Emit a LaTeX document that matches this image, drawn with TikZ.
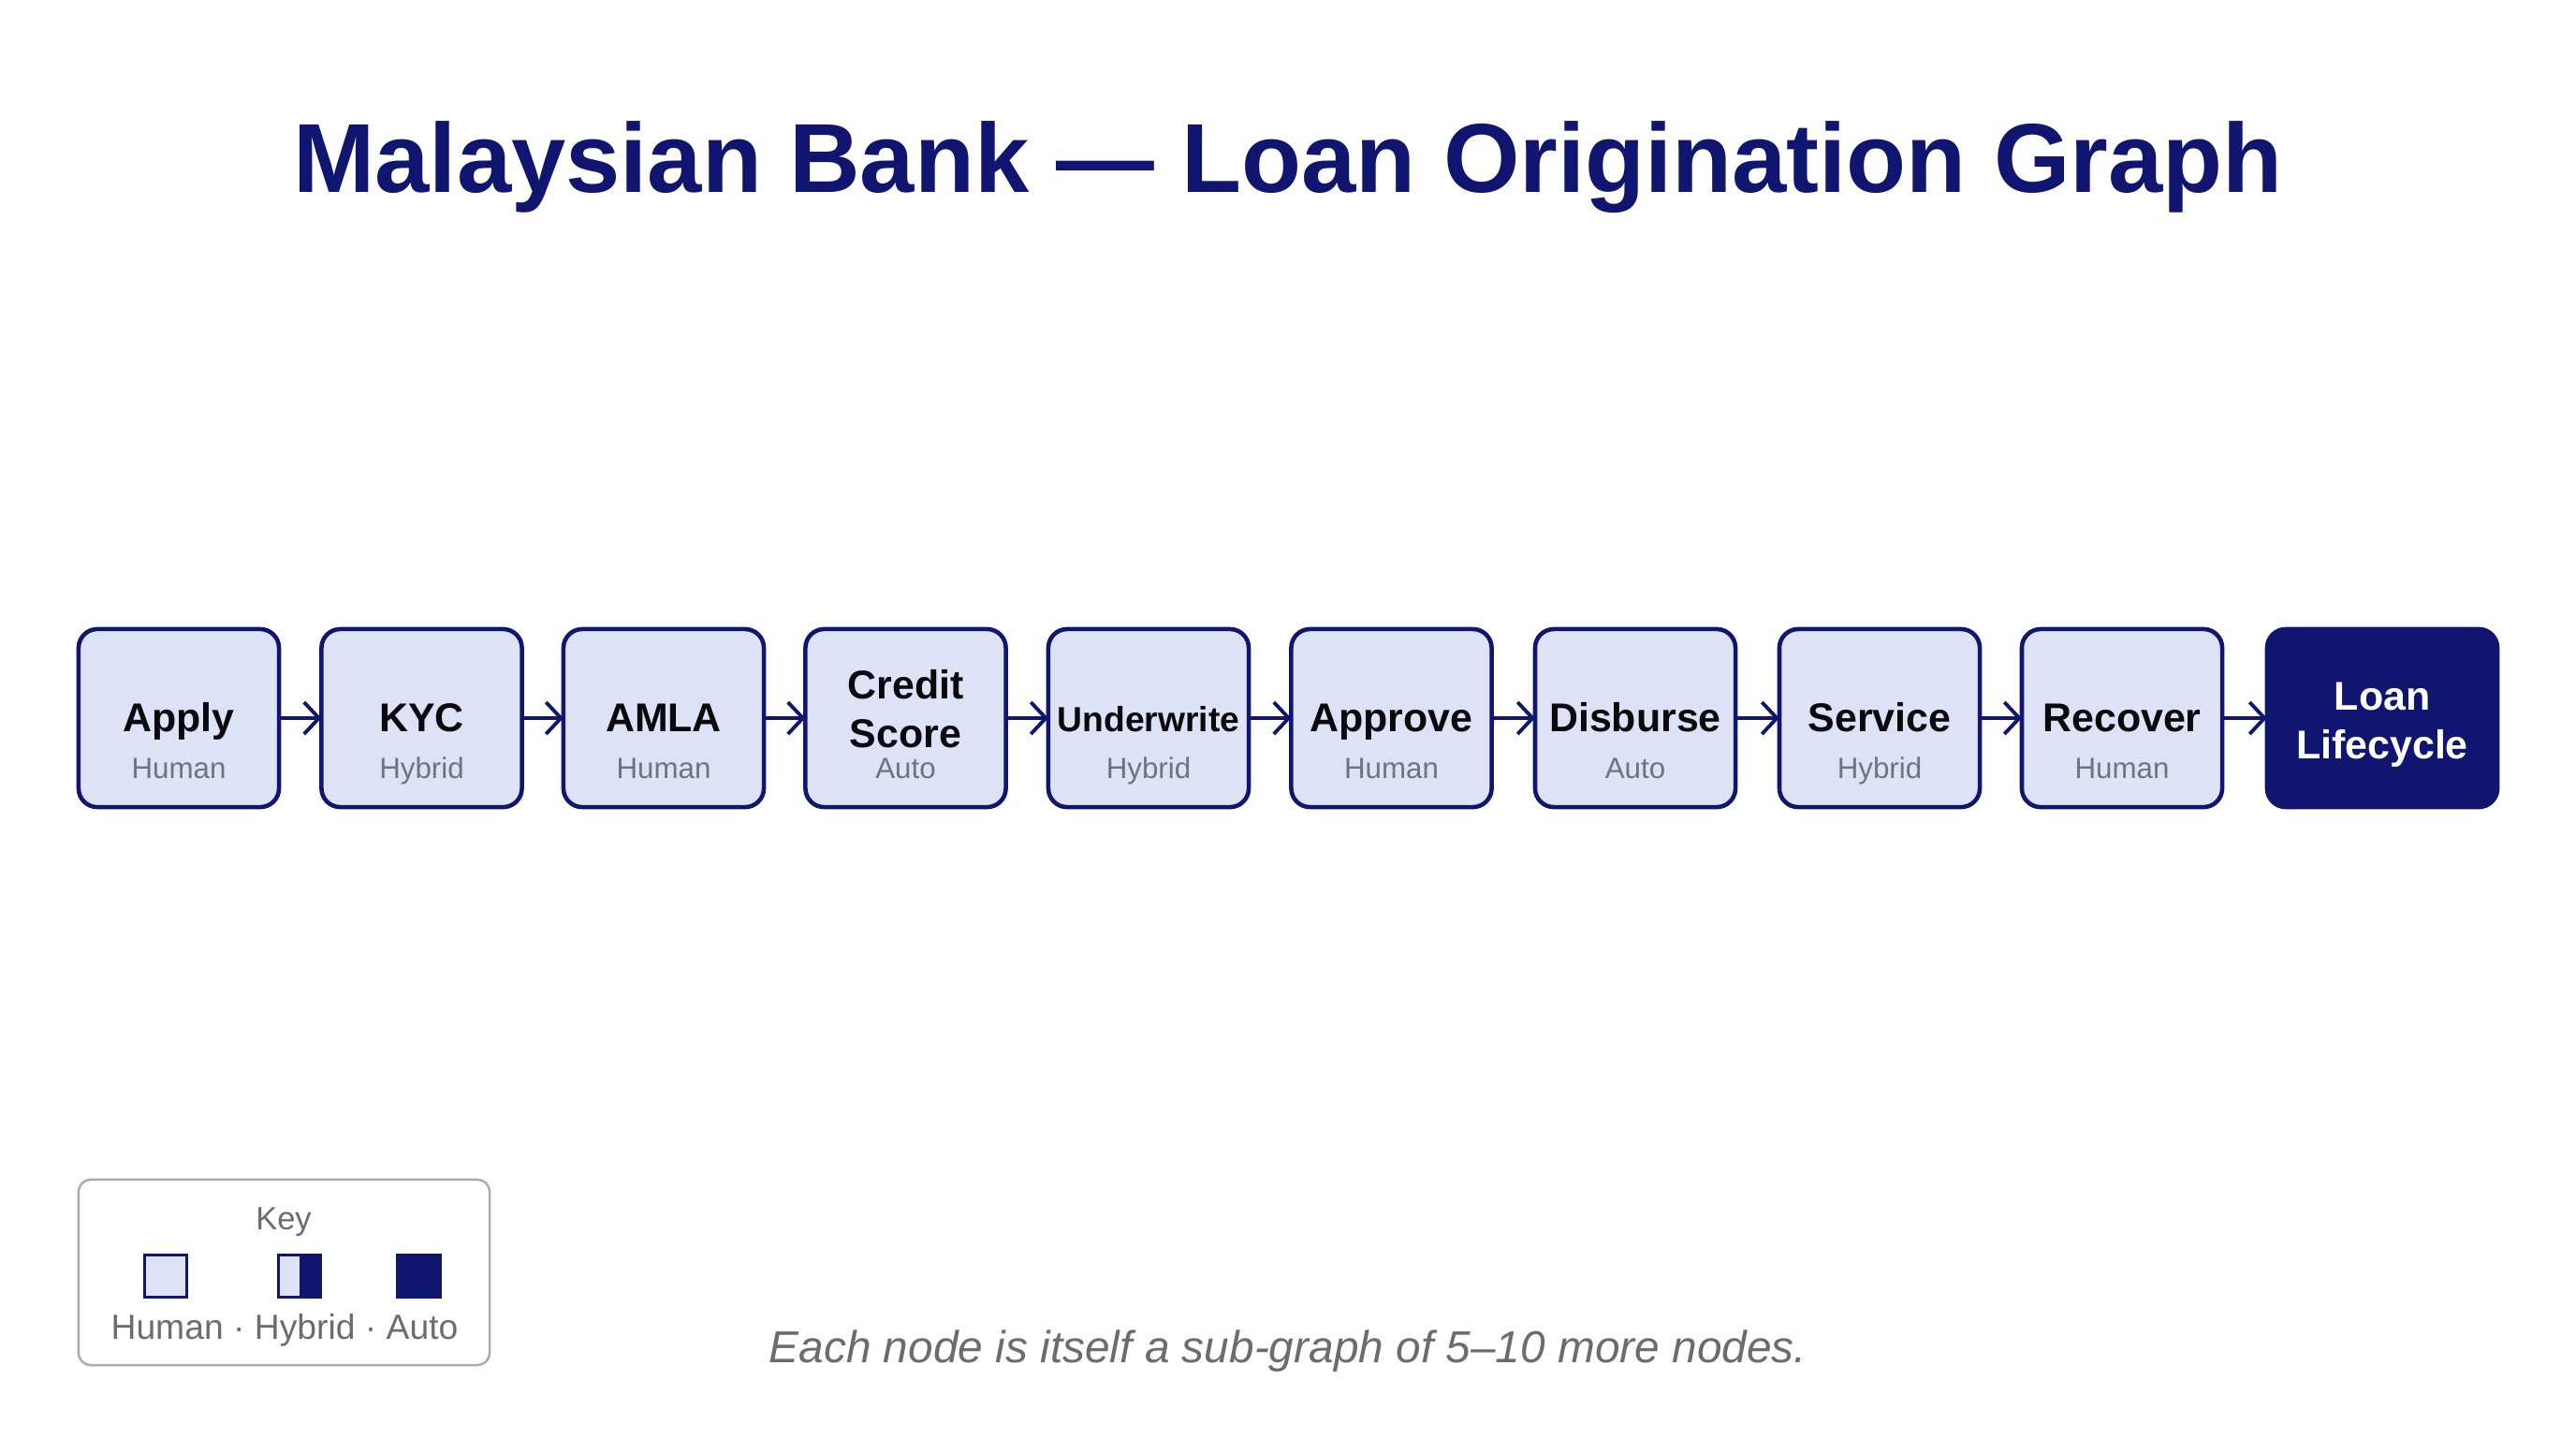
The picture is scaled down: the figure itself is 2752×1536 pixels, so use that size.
\documentclass[tikz,border=0pt]{standalone}
\usepackage{fontspec}
\setmainfont{Liberation Sans}
\usetikzlibrary{arrows.meta}
\definecolor{navy}{RGB}{16,22,112}
\definecolor{boxfill}{RGB}{222,226,246}
\definecolor{subgray}{RGB}{112,114,128}
\definecolor{keygray}{RGB}{170,170,178}
\definecolor{notegray}{RGB}{108,108,112}
\definecolor{labelblack}{RGB}{10,10,14}
\begin{document}
\begin{tikzpicture}[x=0.01cm,y=-0.01cm,
  stagebox/.style={draw=navy, line width=1.3pt, fill=boxfill, rounded corners=0.2cm,
    minimum width=2.14cm, minimum height=1.9cm, inner sep=0pt, outer sep=0pt},
  finalbox/.style={draw=navy, line width=1.3pt, fill=navy, rounded corners=0.2cm,
    minimum width=2.46cm, minimum height=1.9cm, inner sep=0pt, outer sep=0pt},
  mainlbl/.style={anchor=base, inner sep=0pt, text=labelblack,
    font=\fontsize{12.2pt}{14pt}\selectfont\bfseries},
  smalllbl/.style={anchor=base, inner sep=0pt, text=labelblack,
    font=\fontsize{10.6pt}{12pt}\selectfont\bfseries},
  finallbl/.style={anchor=base, inner sep=0pt, text=white,
    font=\fontsize{12.2pt}{14pt}\selectfont\bfseries},
  sublbl/.style={anchor=base, inner sep=0pt, text=subgray,
    font=\fontsize{8.9pt}{10pt}\selectfont},
  flow/.style={draw=navy, line width=1.1pt,
    -{Straight Barb[length=0.16cm, width=0.34cm]}},
  keysq/.style={draw=navy, line width=0.9pt, minimum size=0.45cm, inner sep=0pt, outer sep=0pt},
  keytext/.style={anchor=base, inner sep=0pt, text=notegray},
]
\useasboundingbox (0,0) rectangle (2752,1536);
\fill[white] (0,0) rectangle (2752,1536);

% title
\node[anchor=base, inner sep=0pt, text=navy,
  font=\fontsize{29.8pt}{36pt}\selectfont\bfseries] (title) at (1376,205)
  {Malaysian Bank — Loan Origination Graph};

% stage boxes
\node[stagebox] (apply) at (191,767) {};
\node[stagebox] (kyc) at (450.5,767) {};
\node[stagebox] (amla) at (709,767) {};
\node[stagebox] (credit) at (967.5,767) {};
\node[stagebox] (under) at (1227,767) {};
\node[stagebox] (approve) at (1486.5,767) {};
\node[stagebox] (disburse) at (1747,767) {};
\node[stagebox] (service) at (2008,767) {};
\node[stagebox] (recover) at (2267,767) {};
\node[finalbox] (loan) at (2545,767) {};

% labels
\node[mainlbl] (apply-t) at (apply.center |- 0,781) {Apply};
\node[sublbl] (apply-s) at (apply.center |- 0,831) {Human};
\node[mainlbl] (kyc-t) at (kyc.center |- 0,781) {KYC};
\node[sublbl] (kyc-s) at (kyc.center |- 0,831) {Hybrid};
\node[mainlbl] (amla-t) at (amla.center |- 0,781) {AMLA};
\node[sublbl] (amla-s) at (amla.center |- 0,831) {Human};
\node[mainlbl] (credit-t1) at (credit.center |- 0,746) {Credit};
\node[mainlbl] (credit-t2) at (credit.center |- 0,798) {Score};
\node[sublbl] (credit-s) at (credit.center |- 0,831) {Auto};
\node[smalllbl] (under-t) at (under.center |- 0,781) {Underwrite};
\node[sublbl] (under-s) at (under.center |- 0,831) {Hybrid};
\node[mainlbl] (approve-t) at (approve.center |- 0,781) {Approve};
\node[sublbl] (approve-s) at (approve.center |- 0,831) {Human};
\node[mainlbl] (disburse-t) at (disburse.center |- 0,781) {Disburse};
\node[sublbl] (disburse-s) at (disburse.center |- 0,831) {Auto};
\node[mainlbl] (service-t) at (service.center |- 0,781) {Service};
\node[sublbl] (service-s) at (service.center |- 0,831) {Hybrid};
\node[mainlbl] (recover-t) at (recover.center |- 0,781) {Recover};
\node[sublbl] (recover-s) at (recover.center |- 0,831) {Human};
\node[finallbl] (loan-t1) at (loan.center |- 0,758) {Loan};
\node[finallbl] (loan-t2) at (loan.center |- 0,810) {Lifecycle};

% connectors
\draw[flow] (apply.east) -- (kyc.west);
\draw[flow] (kyc.east) -- (amla.west);
\draw[flow] (amla.east) -- (credit.west);
\draw[flow] (credit.east) -- (under.west);
\draw[flow] (under.east) -- (approve.west);
\draw[flow] (approve.east) -- (disburse.west);
\draw[flow] (disburse.east) -- (service.west);
\draw[flow] (service.east) -- (recover.west);
\draw[flow] (recover.east) -- (loan.west);

% key
\node[draw=keygray, line width=0.7pt, fill=white, rounded corners=0.13cm,
  minimum width=4.39cm, minimum height=1.98cm, inner sep=0pt] (keybox) at (303.5,1359) {};
\node[keytext, font=\fontsize{9.8pt}{11pt}\selectfont] (keytitle) at (303,1313) {Key};
\node[keysq, fill=boxfill] (khuman) at (177,1363) {};
\node[keysq, fill=boxfill, path picture={
  \fill[navy] (path picture bounding box.north) rectangle (path picture bounding box.south east);}]
  (khybrid) at (320,1363) {};
\node[keysq, fill=navy] (kauto) at (447.5,1363) {};
\node[keytext, font=\fontsize{10.6pt}{12pt}\selectfont] (keylegend) at (304,1430)
  {Human · Hybrid · Auto};

% footnote
\node[anchor=base, inner sep=0pt, text=notegray,
  font=\fontsize{13.6pt}{16pt}\selectfont\itshape] (note) at (1376,1455)
  {Each node is itself a sub-graph of 5–10 more nodes.};
\end{tikzpicture}
\end{document}
